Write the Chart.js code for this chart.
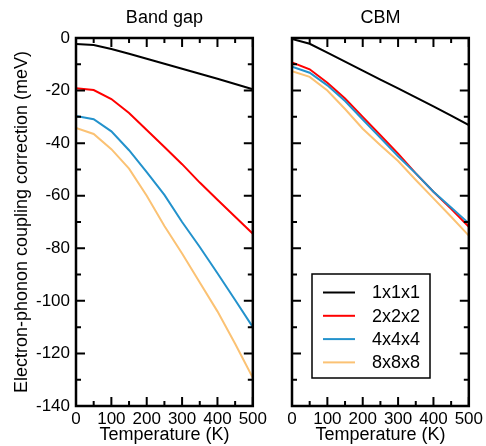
<!DOCTYPE html>
<html>
<head>
<meta charset="utf-8">
<script src="https://cdn.jsdelivr.net/npm/chart.js@4"></script>
<style>
  html, body { margin: 0; padding: 0; background: #fff; }
  #wrap { position: relative; width: 486px; height: 446px; }
  canvas { position: absolute; top: 0; }
  #gap { left: 0; }
  #cbm { left: 270px; }
</style>
</head>
<body>
<div id="wrap">
  <canvas id="gap" width="270" height="446"></canvas>
  <canvas id="cbm" width="216" height="446"></canvas>
</div>
<script>
// data
const temps = [0, 50, 100, 150, 200, 250, 300, 350, 400, 450, 500];
const seriesNames = ['1x1x1', '2x2x2', '4x4x4', '8x8x8'];

const gap111 = [-2.3, -2.7, -4.2, -6.0, -7.9, -9.8, -11.7, -13.6, -15.5, -17.5, -19.5];
const gap222 = [-19.1, -19.8, -23.2, -28.5, -35, -41.5, -48, -55, -61.5, -68, -74.5];
const gap444 = [-29.7, -30.9, -35.5, -42.7, -51, -59.7, -70, -79.5, -89.5, -99.7, -110];
const gap888 = [-34.2, -36.5, -42.3, -49.7, -60, -71.5, -82, -93, -104, -116.3, -129.3];

const cbm111 = [-0.4, -2.2, -5.6, -9.0, -12.4, -15.8, -19.2, -22.6, -26.0, -29.5, -33.1];
const cbm222 = [-9.3, -11.9, -17, -23, -30, -37, -44, -51.5, -58.5, -65, -71.8];
const cbm444 = [-10.9, -13.2, -18, -24, -31, -38, -45, -51.5, -58.5, -64.5, -70.5];
const cbm888 = [-12.6, -14.8, -20, -27, -34.5, -40.8, -46.8, -54, -61, -68, -75.2];

const xTicks = [0, 100, 200, 300, 400, 500];
const yTicks = [0, -20, -40, -60, -80, -100, -120, -140];

const colors = ['#000000', '#ff0000', '#2392cc', '#fbc274'];

Chart.defaults.font.family = '"Liberation Sans", Arial, Helvetica, sans-serif';
Chart.defaults.color = '#000';

function makeSets(list) {
  return list.map((vals, i) => ({
    label: seriesNames[i],
    data: vals.map((v, k) => ({ x: temps[k], y: v })),
    borderColor: colors[i],
    borderWidth: 2,
    pointRadius: 0,
    tension: 0,
    fill: false,
    order: 3 - i,
  }));
}

// frame + inward ticks on all four sides
const frameTicks = {
  id: 'frameTicks',
  afterDraw(chart) {
    const { ctx, chartArea: a, scales: { x, y } } = chart;
    ctx.save();
    ctx.strokeStyle = '#000';
    ctx.lineWidth = 2;
    ctx.beginPath();
    for (let v = 0; v <= 500; v += 50) {
      const px = x.getPixelForValue(v);
      const len = v % 100 ? 5 : 9;
      ctx.moveTo(px, a.bottom); ctx.lineTo(px, a.bottom - len);
      ctx.moveTo(px, a.top); ctx.lineTo(px, a.top + len);
    }
    for (let v = -140; v <= 0; v += 10) {
      const py = y.getPixelForValue(v);
      const len = v % 20 ? 5 : 9;
      ctx.moveTo(a.left, py); ctx.lineTo(a.left + len, py);
      ctx.moveTo(a.right, py); ctx.lineTo(a.right - len, py);
    }
    ctx.stroke();
    ctx.lineWidth = 2.5;
    ctx.strokeRect(a.left, a.top, a.right - a.left, a.bottom - a.top);
    ctx.restore();
  }
};

// boxed legend inside the CBM panel
const boxLegend = {
  id: 'boxLegend',
  afterDraw(chart) {
    const { ctx, chartArea: a } = chart;
    const bx = a.left + 20, by = 274, bw = 118, bh = 104;
    ctx.save();
    ctx.fillStyle = '#fff';
    ctx.fillRect(bx, by, bw, bh);
    ctx.strokeStyle = '#000';
    ctx.lineWidth = 1.5;
    ctx.strokeRect(bx, by, bw, bh);
    ctx.font = '18px "Liberation Sans", Arial, sans-serif';
    ctx.textBaseline = 'middle';
    chart.data.datasets.forEach((ds, i) => {
      const ry = by + 18.5 + i * 23.3;
      ctx.strokeStyle = ds.borderColor;
      ctx.lineWidth = 2;
      ctx.beginPath();
      ctx.moveTo(bx + 11, ry); ctx.lineTo(bx + 43, ry);
      ctx.stroke();
      ctx.fillStyle = '#000';
      ctx.fillText(ds.label, bx + 60, ry + 1);
    });
    ctx.restore();
  }
};

function makeChart(id, title, sets, showY, padLeft) {
  return new Chart(document.getElementById(id), {
    type: 'line',
    data: { datasets: makeSets(sets) },
    options: {
      responsive: false,
      animation: false,
      devicePixelRatio: 1,
      layout: { padding: { top: 38, right: 17, left: padLeft, bottom: 0 } },
      plugins: {
        legend: { display: false },
        tooltip: { enabled: false },
        title: { display: false },
        panelTitle: { text: title },
      },
      scales: {
        x: {
          type: 'linear',
          min: 0, max: 500,
          afterBuildTicks: s => { s.ticks = xTicks.map(v => ({ value: v })); },
          afterFit: s => { s.height = 40; },
          grid: { display: false, drawTicks: false },
          border: { display: false },
          ticks: { autoSkip: false, maxRotation: 0, padding: 3, font: { size: 17 } },
          title: { display: true, text: 'Temperature (K)', font: { size: 18 }, padding: { top: 0, bottom: 0 } },
        },
        y: {
          type: 'linear',
          display: showY,
          min: -140, max: 0,
          afterBuildTicks: s => { s.ticks = yTicks.map(v => ({ value: v })); },
          afterFit: s => { s.width = showY ? 76 : 0; },
          grid: { display: false, drawTicks: false },
          border: { display: false },
          ticks: { autoSkip: false, padding: 6, font: { size: 17 } },
          title: { display: true, text: 'Electron-phonon coupling correction (meV)', font: { size: 18 }, padding: { top: 11, bottom: 0 } },
        },
      },
    },
    plugins: [frameTicks, {
      id: 'panelTitle',
      afterDraw(chart, args, opts) {
        const { ctx, chartArea: a } = chart;
        ctx.save();
        ctx.font = '18px "Liberation Sans", Arial, sans-serif';
        ctx.fillStyle = '#000';
        ctx.textAlign = 'center';
        ctx.textBaseline = 'alphabetic';
        ctx.fillText(opts.text, (a.left + a.right) / 2, 23);
        ctx.restore();
      }
    }].concat(id === 'cbm' ? [boxLegend] : []),
  });
}

makeChart('gap', 'Band gap', [gap111, gap222, gap444, gap888], true, 0);
makeChart('cbm', 'CBM', [cbm111, cbm222, cbm444, cbm888], false, 22);
</script>
</body>
</html>
